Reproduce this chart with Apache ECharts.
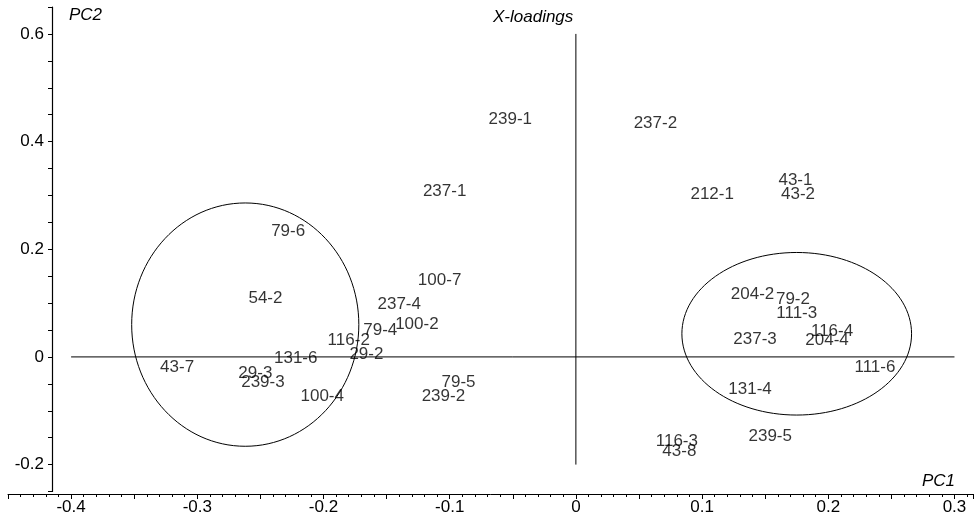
<!DOCTYPE html>
<html>
<head>
<meta charset="UTF-8">
<title>X-loadings</title>
<script src="https://cdn.jsdelivr.net/npm/echarts@6/dist/echarts.min.js"></script>
<style>
  body { margin: 0; background: #fff; }
  #main { width: 980px; height: 523px; }
</style>
</head>
<body>
<div id="main"></div>
<script type="text/javascript">
// loading labels and their PC1 / PC2 coordinates
var names = ['239-1', '237-2', '43-1', '43-2', '212-1', '237-1', '79-6', '54-2', '100-7', '237-4',
             '100-2', '79-4', '116-2', '29-2', '131-6', '43-7', '29-3', '239-3', '100-4', '79-5',
             '239-2', '204-2', '79-2', '111-3', '116-4', '204-4', '237-3', '111-6', '131-4', '239-5',
             '116-3', '43-8'];
var pc1 = [-0.052, 0.063, 0.174, 0.176, 0.108, -0.104, -0.228, -0.246, -0.108, -0.140,
           -0.126, -0.155, -0.180, -0.166, -0.222, -0.316, -0.254, -0.248, -0.201, -0.093,
           -0.105, 0.140, 0.172, 0.175, 0.203, 0.199, 0.142, 0.237, 0.138, 0.154,
           0.080, 0.082];
var pc2 = [0.444, 0.435, 0.329, 0.303, 0.303, 0.309, 0.236, 0.110, 0.145, 0.100,
           0.063, 0.052, 0.032, 0.007, 0.000, -0.017, -0.028, -0.045, -0.072, -0.046,
           -0.072, 0.119, 0.108, 0.082, 0.050, 0.032, 0.035, -0.017, -0.058, -0.145,
           -0.154, -0.173];

// group ellipses: centre x, centre y, radius x, radius y
var groups = [
  [-0.262, 0.060, 0.090, 0.226],
  [0.175, 0.043, 0.091, 0.151]
];

// cross lines through the origin
var hLine = [[-0.4, 0], [0.3, 0]];
var vLine = [[0, 0.6], [0, -0.2]];

var font = 'Liberation Sans, Arial, sans-serif';

function xFmt(v) {
  var k = Math.round(v * 10);
  if (Math.abs(v * 10 - k) > 1e-6) return '';
  return k === 0 ? '0' : (k / 10).toFixed(1);
}
function yFmt(v) {
  var k = Math.round(v * 5);
  if (Math.abs(v * 5 - k) > 1e-6) return '';
  return k === 0 ? '0' : (k / 5).toFixed(1);
}

var myChart = echarts.init(document.getElementById('main'));

var pts = names.map(function (n, i) { return [pc1[i], pc2[i], n]; });

var titleStyle = { fontFamily: font, fontSize: 17, fontStyle: 'italic', fontWeight: 'normal', color: '#000' };

var option = {
  animation: false,
  backgroundColor: '#fff',
  textStyle: { fontFamily: font, color: '#000' },
  title: [
    { text: 'X-loadings', left: 488, top: 4, textStyle: titleStyle },
    { text: 'PC2', left: 64, top: 2, textStyle: titleStyle },
    { text: 'PC1', left: 917, top: 468, textStyle: titleStyle }
  ],
  grid: { left: 8, right: 6.6, top: 7, bottom: 31.5 },
  xAxis: {
    type: 'value',
    min: -0.45, max: 0.315, interval: 0.05,
    offset: 2.5,
    splitLine: { show: false },
    axisLine: { show: true, onZero: false, lineStyle: { color: '#000', width: 1 } },
    axisTick: { show: true, length: 5, lineStyle: { color: '#000' } },
    minorTick: { show: true, splitNumber: 5, length: 3, lineStyle: { color: '#000' } },
    axisLabel: { formatter: xFmt, fontSize: 17, color: '#000', fontFamily: font, margin: 5 }
  },
  yAxis: {
    type: 'value',
    min: -0.25, max: 0.65, interval: 0.05,
    offset: -44,
    splitLine: { show: false },
    axisLine: { show: true, onZero: false, lineStyle: { color: '#000', width: 1.2 } },
    axisTick: { show: true, length: 4, lineStyle: { color: '#000' } },
    axisLabel: { formatter: yFmt, fontSize: 17, color: '#000', fontFamily: font, margin: 8 }
  },
  series: [
    {
      type: 'line', data: hLine, symbol: 'none', silent: true,
      lineStyle: { color: '#000', width: 1 }
    },
    {
      type: 'line', data: vLine, symbol: 'none', silent: true,
      lineStyle: { color: '#000', width: 1 }
    },
    {
      type: 'custom',
      data: groups,
      silent: true,
      renderItem: function (params, api) {
        var c = api.coord([api.value(0), api.value(1)]);
        var s = api.size([api.value(2), api.value(3)]);
        return {
          type: 'ellipse',
          shape: { cx: c[0], cy: c[1], rx: s[0], ry: s[1] },
          style: { fill: 'none', stroke: '#000', lineWidth: 1 }
        };
      }
    },
    {
      type: 'scatter',
      data: pts,
      symbolSize: 1,
      itemStyle: { color: 'rgba(0,0,0,0)' },
      silent: true,
      label: {
        show: true,
        position: 'inside',
        offset: [0, 1],
        formatter: function (p) { return p.value[2]; },
        fontSize: 17,
        fontFamily: font,
        color: '#000'
      }
    }
  ]
};

myChart.setOption(option);
</script>
</body>
</html>
